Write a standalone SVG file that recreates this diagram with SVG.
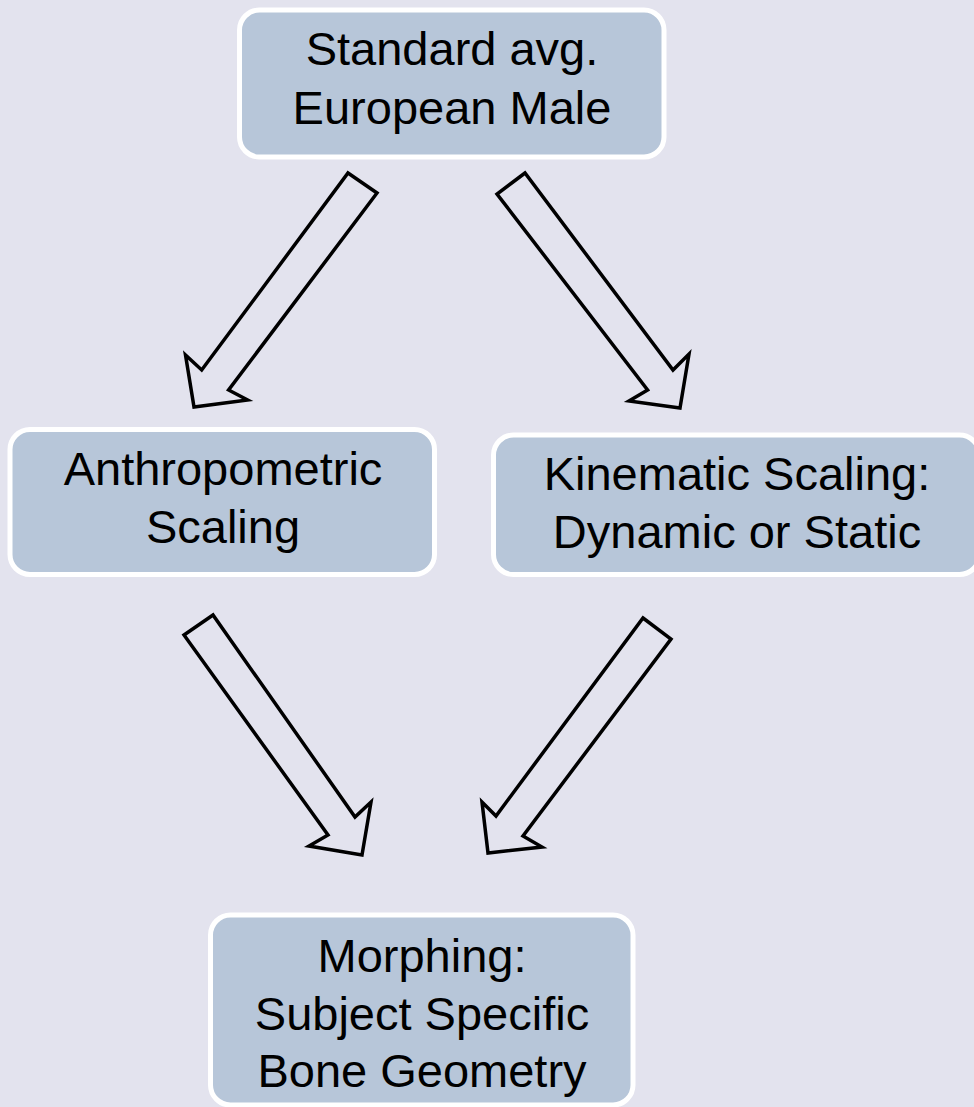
<svg xmlns="http://www.w3.org/2000/svg" width="974" height="1107" viewBox="0 0 974 1107">
<style>
.box{fill:#B7C6D9;stroke:#FFFFFF;stroke-width:5}
.lbl{font-family:"Liberation Sans",Arial,sans-serif;font-size:47px;fill:#000000;text-anchor:middle}
.arr{fill:none;stroke:#000000;stroke-width:3.5;stroke-linejoin:miter}
</style>
<rect x="0" y="0" width="974" height="1107" fill="#E3E3EE"/>
<g id="node-standard">
<rect class="box" x="239.5" y="10" width="424.5" height="147" rx="20"/>
<text class="lbl" x="452" y="65">Standard avg.</text>
<text class="lbl" x="452" y="124">European Male</text>
</g>
<g id="node-anthropometric">
<rect class="box" x="10" y="429.5" width="424.5" height="145" rx="20"/>
<text class="lbl" x="223" y="485">Anthropometric</text>
<text class="lbl" x="223" y="543">Scaling</text>
</g>
<g id="node-kinematic">
<rect class="box" x="493.5" y="435" width="486" height="139.5" rx="20"/>
<text class="lbl" x="737" y="490">Kinematic Scaling:</text>
<text class="lbl" x="737" y="548">Dynamic or Static</text>
</g>
<g id="node-morphing">
<rect class="box" x="210.5" y="915" width="422.5" height="190" rx="20"/>
<text class="lbl" x="422" y="972">Morphing:</text>
<text class="lbl" x="422" y="1030">Subject Specific</text>
<text class="lbl" x="422" y="1087">Bone Geometry</text>
</g>
<g id="connectors">
<polygon class="arr" points="348,173 377,193 228.6,390 247.6,400 194,407 185.5,355 201.7,370"/>
<polygon class="arr" points="525,173 497,194 647.6,390 629,401 680,408 689,354 673,370"/>
<polygon class="arr" points="213,615 184,635 328,835 309,846 362,855 371,802 355,817"/>
<polygon class="arr" points="643,618 671,639 523,836 542,847 488,853 482,802 496,816"/>
</g>
</svg>
